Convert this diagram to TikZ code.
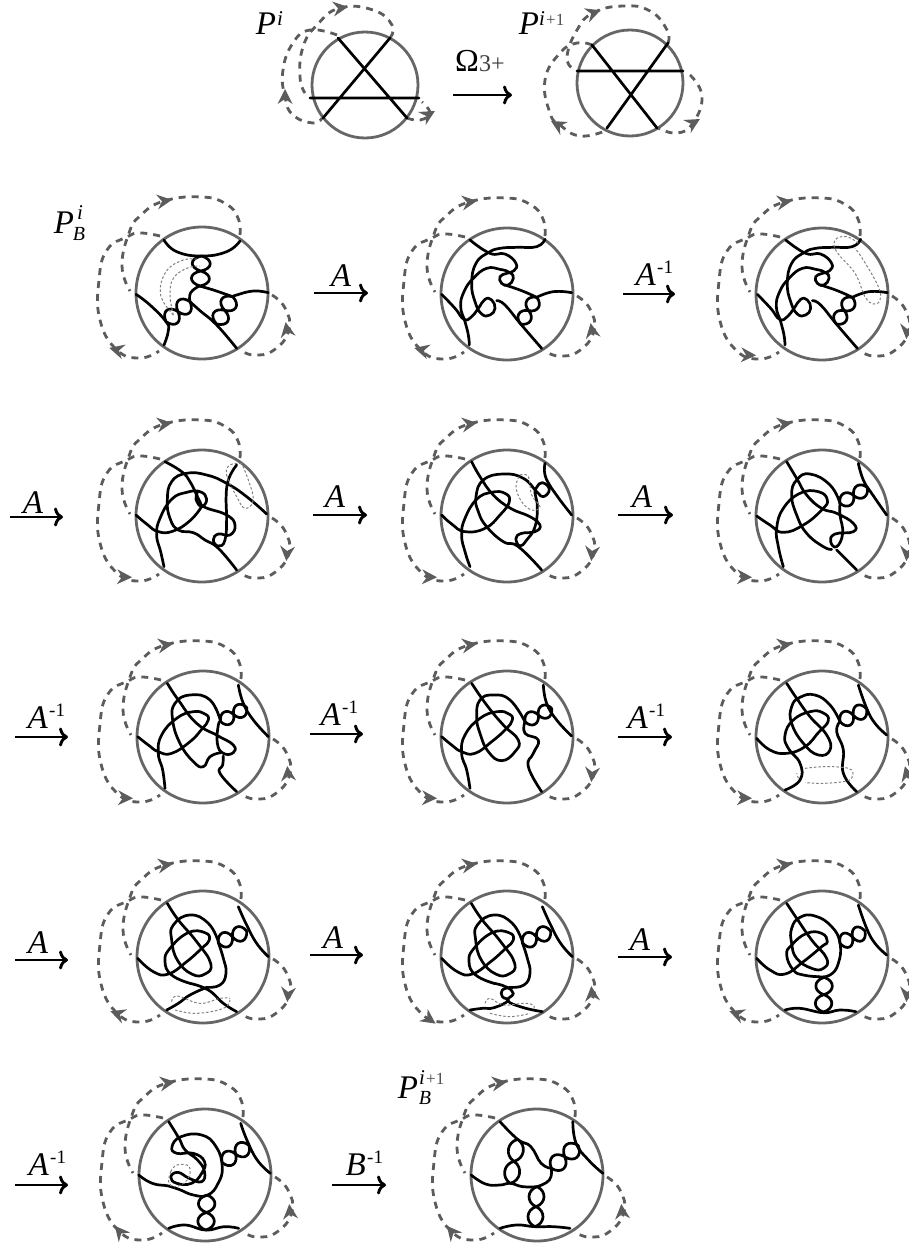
\documentclass[tikz,border=0pt]{standalone}
\usepackage{fontspec}
\setmainfont{Liberation Serif}
\usetikzlibrary{arrows.meta,calc}
\definecolor{rimcol}{HTML}{666666}
\definecolor{dashcol}{HTML}{5C5C5C}
\tikzset{
 knot/.style={line width=2.7pt,black,line cap=round,line join=round},
 rim/.style={line width=2.8pt,rimcol},
 dsh/.style={line width=2.8pt,dashcol,dash pattern=on 7pt off 6pt},
 dotl/.style={line width=1pt,gray,dash pattern=on 2.5pt off 2pt},
 mv/.style={line width=2.9pt,black,-{Computer Modern Rightarrow[length=9pt,width=19pt]}},
 lab/.style={inner sep=0pt,font=\fontsize{33}{33}\selectfont\itshape},
 supi/.style={inner sep=0pt,font=\fontsize{21}{21}\selectfont\itshape},
 subb/.style={inner sep=0pt,font=\fontsize{20}{20}\selectfont\itshape},
 sm/.style={inner sep=0pt,font=\fontsize{19}{19}\selectfont},
 tiny/.style={inner sep=0pt,font=\fontsize{17}{17}\selectfont}
}
\newcommand\K[1]{\draw[knot] plot[smooth,tension=.8] coordinates {#1};}
\newcommand\Dt[1]{\draw[dotl] plot[smooth,tension=.7] coordinates {#1};}
\newcommand\Dd[1]{\draw[dsh] plot[smooth,tension=.8] coordinates {#1};}
\newcommand\hd[3]{\fill[dashcol,shift={(#1,#2)},rotate=#3] (8,0)--(-7,7.5)--(-2,0)--(-7,-7.5)--cycle;}
% twisted pair of lobes between two points
\newcommand\Tw[5]{\coordinate (TA) at (#1,#2);\coordinate (TB) at (#3,#4);\coordinate (TM) at ($(TA)!.5!(TB)$);
 \draw[knot] (TA) .. controls ($(TA)!.1!(TB)!#5pt!90:(TB)$) and ($(TA)!.4!(TB)!#5pt!90:(TB)$) .. (TM)
  .. controls ($(TA)!.6!(TB)!#5pt!-90:(TB)$) and ($(TA)!.9!(TB)!#5pt!-90:(TB)$) .. (TB)
  (TA) .. controls ($(TA)!.1!(TB)!#5pt!-90:(TB)$) and ($(TA)!.4!(TB)!#5pt!-90:(TB)$) .. (TM)
  .. controls ($(TA)!.6!(TB)!#5pt!90:(TB)$) and ($(TA)!.9!(TB)!#5pt!90:(TB)$) .. (TB);}
% frame: cx,cy, left-tip position, left angle, right angle
\newcommand\Fr[6]{\begin{scope}[shift={(#1,#2)}]
 \draw[rim] (0,0) circle[radius=66pt];
 \Dd{(38,-58) (36,-75) (24,-89) (0,-96) (-38,-92) (-62,-77) (-73,-60) (-80,-27) (-72,-2)}
 \Dd{(-42,-57) (-62,-60) (-75,-56) (-95,-43) (-103,-13) (-102,27) (-85,57) (-62,65) (-43,58)}
 \Dd{(70,2) (83,15) (87,37) (72,57) (52,62) (38,57)}
 \hd{-38}{-92}{8}\hd{#3}{#4}{#5}\hd{85}{37}{#6}
\end{scope}}
\newcommand\Zs[2]{\begin{scope}[shift={(#1,#2)},x=.33333pt,y=-.33333pt]}
\newcommand\Ar[4]{\coordinate (s#1) at (#2,#4);\coordinate (e#1) at (#3,#4);\draw[mv] (s#1) -- (e#1);}
\newcommand\LI[4]{\node[lab,anchor=east] (la#1) at (#3,#4) {#2};\node[sm,anchor=west] (lb#1) at ([xshift=1pt,yshift=8pt]la#1.east) {-1};}
% shared knots
\newcommand\DtwoK{
 \K{(240,180) (300,220) (345,222) (378,250) (372,272) (350,280) (330,290) (335,310) (355,315) (370,295) (360,278) (330,268) (290,265) (250,295) (222,335) (212,380) (225,425) (235,465) (238,495)}
 \K{(465,178) (440,200) (380,202) (330,205) (295,218) (258,250) (245,310) (255,365) (275,402) (300,405) (315,385) (305,360) (285,358) (265,385) (245,410) (222,418) (195,385) (155,343)}
 \K{(345,315) (395,332) (440,352)}
 \Tw{440}{352}{392}{432}{9}
 \K{(440,352) (490,335) (545,338)}
 \K{(455,505) (392,432) (345,375) (320,362)}
}
\newcommand\Dten{
 \K{(232,220) (265,270) (320,335) (362,400) (345,432) (305,432) (262,390) (245,330) (250,285) (300,255) (355,280) (385,335)}
 \K{(143,385) (190,425) (235,432) (290,395) (335,355) (358,330) (345,308) (295,308) (240,355) (225,395) (245,435) (300,460)}
 \Tw{470}{303}{385}{338}{10}
 \K{(445,230) (470,285) (500,340) (535,380)}
 \K{(385,338) (400,385) (408,430) (390,465) (350,472)}
}
\begin{document}
\begin{tikzpicture}[x=1pt,y=-1pt]
\useasboundingbox (0,0) rectangle (909,1245);
% ---- top row
\begin{scope}[shift={(365,85)}]
 \draw[rim] (0,0) circle[radius=53pt];
 \Dd{(25,-47) (27,-60) (8,-75) (-25,-77) (-48,-60) (-62,-38) (-65,-8) (-60,8)}
 \Dd{(-28,-50) (-55,-55) (-72,-42) (-82,-15) (-80,12) (-72,30) (-52,38) (-43,33)}
 \Dd{(42,33) (55,35) (65,28) (57,17)}
 \hd{-25}{-77}{8}\hd{-80}{12}{90}\hd{63}{30}{30}
 \coordinate (t1) at (-27,-47);\coordinate (t2) at (42,33);\coordinate (t3) at (25,-47);\coordinate (t4) at (-42,33);\coordinate (t5) at (-55,13);\coordinate (t6) at (54,13);
 \draw[knot] (t1)--(t2) (t3)--(t4) (t5)--(t6);
\end{scope}
\begin{scope}[shift={(630,83)}]
 \draw[rim] (0,0) circle[radius=53pt];
 \Dd{(38,-40) (37,-53) (20,-72) (-7,-77) (-37,-70) (-53,-53) (-63,-27) (-58,-15)}
 \Dd{(-38,-38) (-53,-40) (-70,-30) (-85,-3) (-80,30) (-70,42) (-50,53) (-25,48)}
 \Dd{(60,-8) (72,13) (63,40) (47,50) (28,45)}
 \hd{-37}{-70}{20}\hd{-72}{42}{150}\hd{63}{40}{30}
 \coordinate (u1) at (-38,-38);\coordinate (u2) at (27,45);\coordinate (u3) at (38,-40);\coordinate (u4) at (-23,45);\coordinate (u5) at (-53,-12);\coordinate (u6) at (53,-12);
 \draw[knot] (u1)--(u2) (u3)--(u4) (u5)--(u6);
\end{scope}
\node[lab] (pi) at (266,24) {P};
\node[supi] (pis) at (280,19) {i};
\node[lab] (pj) at (529,24) {P};
\node[supi,anchor=west] (pjs) at (539,19) {i};
\node[tiny,anchor=west,text=black!70] (pjt) at (546,20) {+1};
\node[inner sep=0pt,font=\fontsize{32}{32}\selectfont] (om) at (467,61) {Ω};
\node[inner sep=0pt,font=\fontsize{24}{24}\selectfont,text=black!75,anchor=west] (omt) at (479,64) {3+};
\Ar{a}{453}{512}{95}
% ---- row 2
\Fr{202}{293}{-85}{57}{165}{100}
\Fr{507}{294}{-85}{56}{165}{100}
\Fr{822}{294}{-74}{61}{-2}{-95}
\Zs{40}{180}
 \K{(372,180) (410,215) (485,228) (560,215) (600,183)}
 \Tw{485}{228}{480}{318}{12}
 \K{(478,318) (520,330) (578,350)}
 \K{(478,318) (452,338) (450,365)}
 \K{(685,338) (640,333) (590,345) (578,350)}
 \K{(590,505) (530,435) (480,392) (450,365)}
 \Tw{578}{350}{530}{432}{11}
 \Tw{450}{365}{378}{425}{11}
 \K{(288,343) (330,375) (378,425) (385,452) (372,495)}
 \Dt{(400,405) (362,345) (378,275) (430,240) (475,238)}
 \Dt{(400,405) (390,345) (400,295) (440,265) (480,258)}
\end{scope}
\Zs{390}{180} \DtwoK \end{scope}
\Zs{705.67}{180} \DtwoK
 \Dt{(458,190) (423,170) (388,180) (393,215) (448,280) (478,350) (503,372) (523,360) (518,320) (473,240) (448,205)}
\end{scope}
\node[lab] (a2) at (341,276) {A};
\Ar{b}{314}{368}{293}
\LI{b}{A}{656}{275}
\Ar{c}{623}{675}{294}
\node[lab] (pb) at (64,223) {P};
\node[supi] (pbs) at (80,213) {i};
\node[subb] (pbb) at (79,234) {B};
% ---- row 3
\Fr{202}{516}{-78}{61}{-2}{-95}
\Fr{507}{516}{-78}{61}{-2}{-95}
\Fr{822}{516}{-78}{61}{-2}{-95}
\Zs{90}{400}
 \K{(440,195) (415,240) (408,300) (410,350) (405,420) (385,438) (370,420) (385,402) (420,405) (435,375) (410,345) (345,322) (330,305) (320,285) (300,245) (275,215) (225,185)}
 \K{(530,342) (470,290) (410,250) (350,225) (290,220) (245,245) (232,300) (240,355) (265,390) (310,398) (345,420) (385,445) (440,510)}
 \K{(222,500) (212,455) (200,405) (210,355) (245,298) (290,277) (330,275) (350,297) (335,320) (318,298) (322,280)}
 \K{(335,320) (300,362) (250,393) (205,395) (170,372) (138,345)}
 \Dt{(455,190) (420,195) (410,225) (440,290) (465,325) (490,300) (475,240) (455,190)}
 % second
 \K{(1145,185) (1170,230) (1210,285) (1262,325) (1320,350) (1350,375) (1335,395) (1295,400) (1278,415) (1290,438) (1310,420) (1335,380) (1342,320) (1335,280) (1340,262) (1357,248) (1378,268) (1360,290) (1340,275) (1300,235) (1240,222) (1180,240) (1158,290) (1165,335) (1190,380) (1240,425) (1285,440) (1355,510)}
 \K{(1365,190) (1365,225) (1385,265) (1410,300) (1445,345)}
 \K{(1140,500) (1125,455) (1115,405) (1125,355) (1160,298) (1205,277) (1245,280) (1258,305) (1230,345) (1185,385) (1125,395) (1085,372) (1055,345)}
 \Dt{(1290,225) (1315,230) (1325,285) (1350,320) (1325,330) (1295,305) (1278,260) (1290,225)}
\end{scope}
\Zs{690}{400}
 \K{(505,190) (520,240) (545,280) (590,345)}
 \Tw{532}{263}{450}{310}{9}
 \K{(450,310) (420,255) (360,222) (320,240) (305,285) (320,345) (350,400) (400,440) (425,448)}
 \K{(450,310) (450,345) (458,400) (440,440) (422,425) (435,402) (490,395) (490,370) (440,340) (395,325) (350,285) (320,235) (290,185)}
 \K{(280,500) (265,440) (260,385) (280,325) (330,280) (385,275) (412,300) (395,330) (340,375) (280,397) (240,375) (200,348)}
 \K{(440,450) (500,510)}
\end{scope}
\Ar{d}{10}{63}{517}
\node[lab] (a3) at (33,503) {A};
\Ar{e}{313}{367}{515}
\node[lab] (a4) at (335,497) {A};
\Ar{f}{618}{673}{515}
\node[lab] (a5) at (642,497) {A};
% ---- row 4
\Fr{203}{737}{-78}{61}{-2}{95}
\Fr{507}{737}{-78}{61}{-2}{-95}
\Fr{822}{737}{-78}{61}{-2}{105}
\Zs{90}{610}
 \K{(232,220) (265,270) (320,340) (385,378) (430,405) (430,428) (400,430) (382,400) (385,345) (392,335)}
 \Tw{470}{292}{392}{335}{9}
 \K{(392,335) (360,270) (300,255) (255,280) (248,330) (270,400) (310,455) (340,470) (360,440) (392,428)}
 \K{(445,225) (460,280) (490,330) (535,380)}
 \K{(400,438) (398,465) (390,490) (440,545)}
 \K{(225,535) (218,480) (205,430) (215,375) (260,325) (310,305) (345,312) (355,330) (335,358) (300,395) (245,430) (205,425) (175,405) (143,380)}
 % second
 \K{(1145,220) (1190,285) (1240,345) (1285,390) (1275,425) (1235,452) (1195,425) (1170,370) (1160,320) (1170,270) (1210,255) (1260,270) (1305,335)}
 \Tw{1385}{295}{1305}{335}{9}
 \K{(1305,335) (1305,370) (1345,390) (1330,430) (1315,470) (1355,545)}
 \K{(1140,535) (1130,480) (1115,430) (1125,375) (1170,325) (1222,305) (1257,312) (1267,330) (1247,358) (1205,395) (1155,430) (1115,425) (1085,405) (1055,380)}
 \K{(1360,225) (1370,280) (1400,330) (1445,378)}
\end{scope}
\Zs{690}{610}
 \K{(290,220) (320,265) (360,320) (410,375) (420,420) (385,435) (340,400) (305,340) (305,290) (330,262) (375,255) (420,285) (450,335)}
 \Tw{530}{297}{450}{335}{10}
 \K{(450,335) (440,365) (460,420) (460,490) (500,545)}
 \K{(200,385) (240,420) (290,430) (345,410) (385,368) (415,332) (398,308) (360,305) (310,330) (285,375) (295,415) (330,460) (330,510) (285,540)}
 \K{(505,225) (530,295) (555,340) (590,375)}
 \Dt{(345,475) (400,470) (455,472) (485,480) (485,505) (460,515) (400,520) (345,518)}
 \Dt{(325,505) (320,490)}
\end{scope}
\Ar{g}{15}{68}{737}
\LI{g}{A}{48}{718}
\Ar{h}{310}{363}{734}
\LI{h}{A}{341}{715}
\Ar{i}{618}{672}{737}
\LI{i}{A}{648}{718}
% ---- row 5
\Fr{203}{957}{-85}{57}{160}{-95}
\Fr{507}{957}{-78}{62}{-35}{95}
\Fr{822}{957}{-85}{57}{160}{-95}
\Zs{90}{830}
 \Dten
 \K{(300,460) (355,480) (400,520) (440,545)}
 \K{(350,472) (300,495) (265,520) (230,540)}
 \Dt{(245,515) (262,498) (330,520) (390,505) (420,505)}
 \Dt{(255,540) (320,550) (400,535) (420,510)}
\end{scope}
\Zs{394}{830}
 \Dten
 \K{(300,460) (335,470) (358,490) (342,512) (385,532) (445,545)}
 \K{(350,472) (325,480) (325,500) (342,512) (300,533) (265,535) (228,540)}
 \Dt{(273,520) (288,505) (328,525) (388,520) (418,525) (418,540)}
 \Dt{(288,550) (348,560) (408,550)}
\end{scope}
\Zs{690}{830}
 \K{(290,220) (320,265) (365,330) (410,385) (400,415) (365,415) (320,385) (305,340) (305,295) (330,262) (375,258) (425,290) (450,340) (445,400) (420,435) (385,440)}
 \K{(200,385) (240,420) (285,432) (340,395) (395,350) (412,335) (395,310) (350,310) (305,345) (290,375) (310,420) (340,435) (385,440)}
 \Tw{525}{303}{450}{340}{10}
 \K{(505,225) (530,295) (555,340) (590,375)}
 \Tw{403}{442}{400}{546}{11}
 \K{(285,540) (330,535) (400,548) (450,540) (498,545)}
\end{scope}
\Ar{j}{15}{68}{960}
\node[lab] (a6) at (38,943) {A};
\Ar{k}{310}{363}{955}
\node[lab] (a7) at (333,938) {A};
\Ar{l}{618}{672}{957}
\node[lab] (a8) at (640,940) {A};
% ---- row 6
\Fr{205}{1175}{-85}{57}{130}{95}
\Fr{537}{1175}{-85}{57}{130}{95}
\begin{scope}[shift={(0,1040)},x=.41152pt,y=-.33333pt]
 \K{(410,245) (435,295) (450,330) (480,360) (497,395) (490,425) (460,415) (432,397) (415,412) (430,430) (465,430) (490,400) (497,365) (470,340) (430,340) (418,320) (440,290) (490,285) (525,320) (540,380) (530,430) (505,465) (470,465) (435,448) (410,438) (370,430) (337,405)}
 \Tw{605}{316}{540}{368}{10}
 \Tw{503}{465}{500}{570}{11}
 \K{(410,565) (450,555) (500,570) (545,560) (580,565)}
 \K{(585,250) (600,300) (625,360) (657,400)}
 \Dt{(415,395) (430,375) (460,380) (455,420) (425,440) (410,425) (415,395)}
 % P_B^{i+1}
 \K{(1215,245) (1258,298) (1290,320) (1315,370) (1340,385)}
 \Tw{1258}{298}{1240}{430}{10}
 \K{(1340,385) (1335,420) (1305,440)}
 \K{(1145,405) (1180,432) (1215,435) (1240,430) (1270,440) (1305,440)}
 \Tw{1305}{440}{1300}{560}{10}
 \Tw{1405}{316}{1340}{385}{11}
 \K{(1392,245) (1400,310) (1430,360) (1465,400)}
 \K{(1215,565) (1255,555) (1300,560) (1345,560) (1385,565)}
\end{scope}
\Ar{m}{15}{68}{1185}
\LI{m}{A}{49}{1165}
\Ar{n}{332}{386}{1185}
\LI{n}{B}{366}{1165}
\node[lab] (pc) at (408,1088) {P};
\node[supi,anchor=west] (pcs) at (419,1078) {i};
\node[tiny,anchor=west,text=black!70] (pct) at (426,1079) {+1};
\node[subb] (pcb) at (425,1098) {B};
\end{tikzpicture}
\end{document}
